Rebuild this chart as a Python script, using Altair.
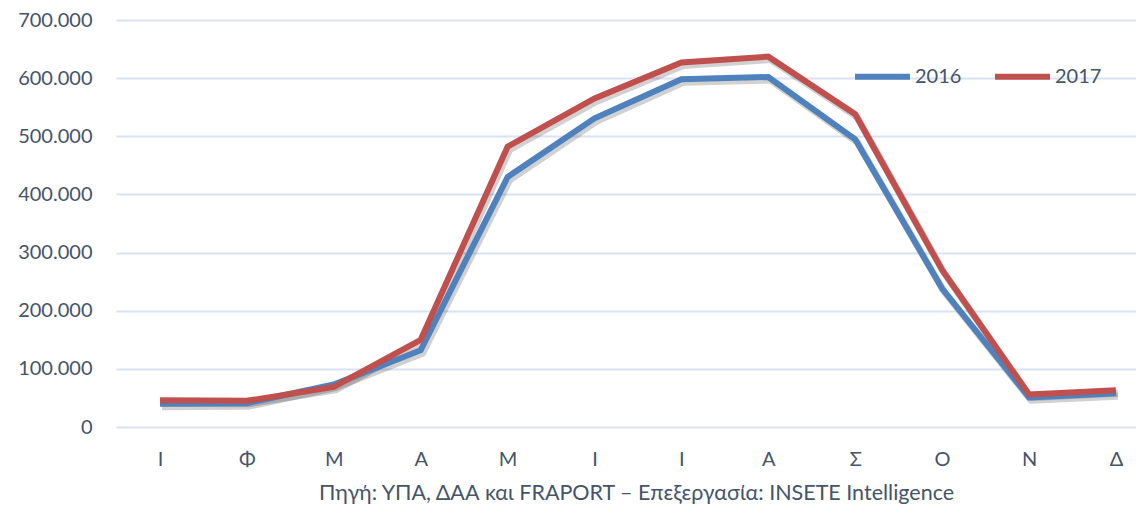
import altair as alt
import pandas as pd

months = ["Ι", "Φ", "Μ", "Α", "Μ", "Ι", "Ι", "Α", "Σ", "Ο", "Ν", "Δ"]
v2016 = [40000, 41000, 73000, 132000, 430000, 531000, 598000, 602000, 495000, 238000, 51000, 58000]
v2017 = [46000, 45000, 69000, 150000, 482000, 565000, 627000, 637000, 538000, 270000, 56000, 63000]
years = ["2016", "2017"]
colors = ["#4F81BD", "#C0504D"]
y_ticks = [0, 100000, 200000, 300000, 400000, 500000, 600000, 700000]
source_text = "Πηγή: ΥΠΑ, ΔΑΑ και FRAPORT – Επεξεργασία: INSETE Intelligence"

rows = []
for i, m in enumerate(months):
    rows.append({"idx": i, "year": years[0], "value": v2016[i]})
    rows.append({"idx": i, "year": years[1], "value": v2017[i]})
df = pd.DataFrame(rows)

FONT = "Lato"
TXT = "#44546A"
label_array = "[" + ",".join("'" + m + "'" for m in months) + "]"

x_enc = alt.X(
    "idx:Q",
    scale=alt.Scale(domain=[-0.506, 11.231], nice=False, zero=False),
    axis=alt.Axis(
        values=list(range(len(months))),
        labelExpr=label_array + "[datum.value]",
        labelAngle=0,
        labelFontSize=20,
        labelFont=FONT,
        labelColor=TXT,
        labelPadding=22,
        labelFlush=False,
        labelOverlap=False,
        ticks=False,
        tickSize=0,
        domain=False,
        grid=False,
        title=source_text,
        titleFont=FONT,
        titleFontSize=21.5,
        titleFontWeight="normal",
        titleColor=TXT,
        titlePadding=13,
        titleX=520,
    ),
)
y_enc = alt.Y(
    "value:Q",
    scale=alt.Scale(domain=[0, 700000], nice=False),
    axis=alt.Axis(
        values=y_ticks,
        labelExpr="replace(format(datum.value, ','), regexp(',', 'g'), '.')",
        labelFontSize=20,
        labelFont=FONT,
        labelColor=TXT,
        labelPadding=24,
        ticks=False,
        tickSize=0,
        domain=False,
        grid=True,
        gridColor="#D9E2F3",
        gridWidth=2,
        title=None,
    ),
)

base = alt.Chart(df)

shadow = base.mark_line(
    stroke="#000000", strokeOpacity=0.18, strokeWidth=7, xOffset=2, yOffset=3, strokeJoin="round"
).encode(x=x_enc, y=y_enc, detail="year:N")

lines = base.mark_line(strokeWidth=6, strokeJoin="miter").encode(
    x=x_enc,
    y=y_enc,
    color=alt.Color(
        "year:N",
        scale=alt.Scale(domain=years, range=colors),
        legend=alt.Legend(
            title=None,
            orient="none",
            legendX=736,
            legendY=26,
            direction="horizontal",
            symbolType="stroke",
            symbolSize=3025,
            symbolStrokeWidth=6,
            labelFont=FONT,
            labelFontSize=20,
            labelColor=TXT,
            labelOffset=2,
            columnPadding=21,
        ),
    ),
)

chart = (
    alt.layer(shadow, lines)
    .properties(
        width=1020,
        height=407,
        autosize=alt.AutoSizeParams(type="none"),
        padding={"left": 108, "top": 12, "right": 0, "bottom": 80},
    )
    .configure(background="white", view=alt.ViewConfig(stroke=None))
)

chart.save("out.html", embed_options={"renderer": "svg", "actions": False})
